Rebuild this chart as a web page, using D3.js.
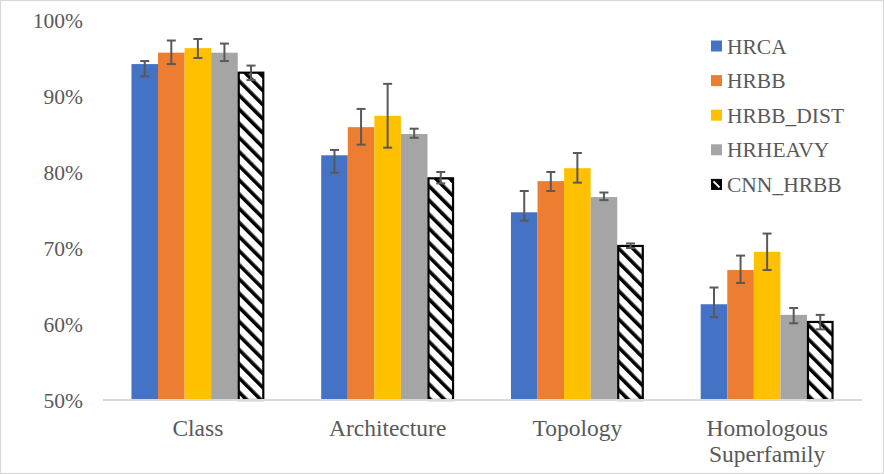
<!DOCTYPE html>
<html>
<head>
<meta charset="utf-8">
<script src="https://cdn.jsdelivr.net/npm/d3@7"></script>
<style>
  body { margin: 0; background: #fff; }
</style>
</head>
<body>
<svg id="chart"></svg>
<script>
// categories and series (accuracy in %)
let categories = ["Class", "Architecture", "Topology", "Homologous Superfamily"];
let seriesNames = ["HRCA", "HRBB", "HRBB_DIST", "HRHEAVY", "CNN_HRBB"];

let hrca      = [94.2, 82.2, 74.7, 62.6];
let hrbb      = [95.7, 85.9, 78.8, 67.1];
let hrbbDist  = [96.3, 87.4, 80.5, 69.5];
let hrheavy   = [95.7, 85.0, 76.7, 61.2];
let cnnHrbb   = [93.2, 79.3, 70.4, 60.4];

// error bar ends (low / high)
let hrcaLow     = [92.6, 79.9, 73.6, 60.9];
let hrcaHigh    = [94.6, 82.9, 77.5, 64.8];
let hrbbLow     = [94.2, 83.6, 77.5, 65.4];
let hrbbHigh    = [97.3, 88.3, 80.0, 69.0];
let hrbbDistLow = [95.0, 83.2, 78.6, 67.1];
let hrbbDistHigh= [97.5, 91.6, 82.5, 71.9];
let hrheavyLow  = [94.6, 84.5, 76.3, 60.1];
let hrheavyHigh = [96.9, 85.7, 77.3, 62.1];
let cnnHrbbLow  = [92.1, 78.5, 70.0, 59.3];
let cnnHrbbHigh = [94.0, 80.0, 70.6, 61.2];

let yTicks = [50, 60, 70, 80, 90, 100];

let colors = ["#4472C4", "#ED7D31", "#FFC000", "#A5A5A5", "url(#hatch)"];

let width = 884;
let height = 474;
let font = "'Liberation Serif', Tinos, 'Times New Roman', serif";

let values = [hrca, hrbb, hrbbDist, hrheavy, cnnHrbb];
let lows = [hrcaLow, hrbbLow, hrbbDistLow, hrheavyLow, cnnHrbbLow];
let highs = [hrcaHigh, hrbbHigh, hrbbDistHigh, hrheavyHigh, cnnHrbbHigh];

let svg = d3.select("#chart")
    .attr("width", width)
    .attr("height", height);

// hatch pattern for CNN_HRBB
let defs = svg.append("defs");
let hatch = defs.append("pattern")
    .attr("id", "hatch")
    .attr("patternUnits", "userSpaceOnUse")
    .attr("width", 10)
    .attr("height", 10)
    .attr("patternTransform", "rotate(-45)");
hatch.append("rect").attr("width", 10).attr("height", 10).attr("fill", "#fff");
hatch.append("rect").attr("width", 3.6).attr("height", 10).attr("fill", "#000");

// chart frame
svg.append("rect")
    .attr("x", 0.5).attr("y", 0.5)
    .attr("width", width - 1).attr("height", height - 1)
    .attr("fill", "#fff")
    .attr("stroke", "#D9D9D9")
    .attr("stroke-width", 1.3);

let plot = { left: 103, right: 862, top: 20, bottom: 400 };

let x0 = d3.scaleBand()
    .domain(categories)
    .range([plot.left, plot.right])
    .paddingInner(0.3)
    .paddingOuter(0.15);

let x1 = d3.scaleBand()
    .domain(seriesNames)
    .range([0, x0.bandwidth()]);

let y = d3.scaleLinear()
    .domain([50, 100])
    .range([plot.bottom, plot.top]);

// y axis (labels only)
let yAxis = svg.append("g")
    .attr("transform", "translate(" + plot.left + ",0)")
    .call(d3.axisLeft(y)
        .tickValues(yTicks)
        .tickFormat(function(d) { return d + "%"; })
        .tickSize(0)
        .tickPadding(20));
yAxis.attr("font-family", font).attr("font-size", 21.5);
yAxis.select(".domain").remove();
yAxis.selectAll("text")
    .attr("fill", "#595959")
    .attr("dy", "0.33em");

// bars
let rows = [];
seriesNames.forEach(function(s, i) {
    categories.forEach(function(c, j) {
        rows.push({ series: s, idx: i, cat: c, value: values[i][j], low: lows[i][j], high: highs[i][j] });
    });
});

svg.append("g")
    .selectAll("rect")
    .data(rows)
    .enter().append("rect")
    .attr("x", function(d) { return x0(d.cat) + x1(d.series) + (d.idx === 4 ? 1 : 0); })
    .attr("y", function(d) { return y(d.value) + (d.idx === 4 ? 1 : 0); })
    .attr("width", function(d) { return x1.bandwidth() - (d.idx === 4 ? 2 : 0); })
    .attr("height", function(d) { return y(50) - y(d.value) - (d.idx === 4 ? 1 : 0); })
    .attr("fill", function(d) { return colors[d.idx]; })
    .attr("stroke", function(d) { return d.idx === 4 ? "#000" : "none"; })
    .attr("stroke-width", 2.2);

// x axis baseline + category labels
let xAxis = svg.append("g")
    .attr("transform", "translate(0," + plot.bottom + ")")
    .call(d3.axisBottom(x0).tickSize(0).tickPadding(0));
xAxis.attr("font-family", font).attr("font-size", 23.5);
xAxis.select(".domain")
    .attr("stroke", "#D9D9D9")
    .attr("stroke-width", 2)
    .attr("d", "M" + plot.left + ",0H" + plot.right);
xAxis.selectAll("text")
    .attr("fill", "#595959")
    .attr("dy", null)
    .each(function(d) {
        let t = d3.select(this);
        t.text(null);
        let words = d === "Homologous Superfamily" ? ["Homologous", "Superfamily"] : [d];
        words.forEach(function(w, k) {
            t.append("tspan")
                .attr("x", 0)
                .attr("y", 35.5 + k * 26.3)
                .text(w);
        });
    });

// error bars
let err = svg.append("g")
    .attr("stroke", "#595959")
    .attr("stroke-width", 2)
    .attr("fill", "none");
let cap = 4.5;
rows.forEach(function(d) {
    let cx = x0(d.cat) + x1(d.series) + x1.bandwidth() / 2;
    err.append("line")
        .attr("x1", cx).attr("x2", cx)
        .attr("y1", y(d.high)).attr("y2", y(d.low));
    err.append("line")
        .attr("x1", cx - cap).attr("x2", cx + cap)
        .attr("y1", y(d.high)).attr("y2", y(d.high));
    err.append("line")
        .attr("x1", cx - cap).attr("x2", cx + cap)
        .attr("y1", y(d.low)).attr("y2", y(d.low));
});

// legend
let legend = svg.append("g")
    .attr("transform", "translate(711,46)");
let item = legend.selectAll("g")
    .data(seriesNames)
    .enter().append("g")
    .attr("transform", function(d, i) { return "translate(0," + (i * 34.6) + ")"; });
item.append("rect")
    .attr("x", function(d, i) { return i === 4 ? 0.5 : 0; })
    .attr("y", function(d, i) { return i === 4 ? -5 : -5.5; })
    .attr("width", function(d, i) { return i === 4 ? 10 : 11; })
    .attr("height", function(d, i) { return i === 4 ? 10 : 11; })
    .attr("fill", function(d, i) { return i === 4 ? "#000" : colors[i]; })
    .attr("stroke", function(d, i) { return i === 4 ? "#000" : "none"; })
    .attr("stroke-width", 1);
// white diagonal inside the CNN_HRBB swatch
item.filter(function(d, i) { return i === 4; })
    .append("line")
    .attr("x1", 2.5).attr("y1", -3).attr("x2", 8.5).attr("y2", 3)
    .attr("stroke", "#fff").attr("stroke-width", 2);
item.append("text")
    .attr("x", 16)
    .attr("dy", "0.35em")
    .attr("font-family", font)
    .attr("font-size", 21.5)
    .attr("fill", "#595959")
    .text(function(d) { return d; });
</script>
</body>
</html>
